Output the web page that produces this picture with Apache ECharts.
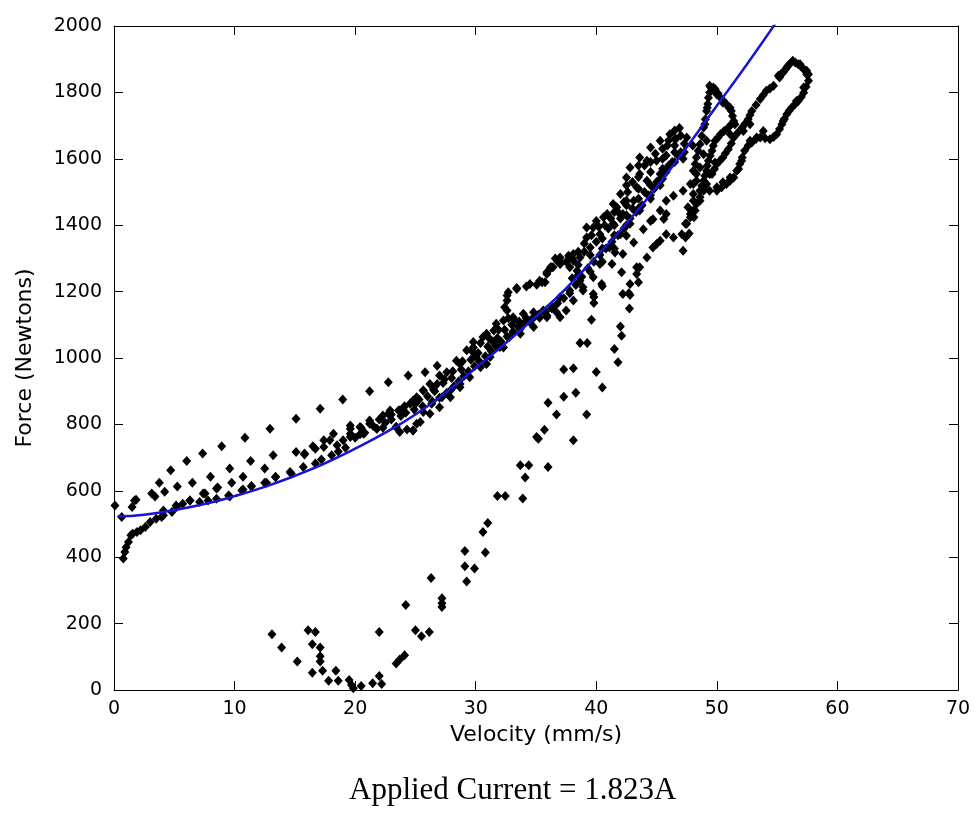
<!DOCTYPE html>
<html>
<head>
<meta charset="utf-8">
<script src="https://cdn.jsdelivr.net/npm/echarts@6/dist/echarts.min.js"></script>
<style>
	html, body { margin: 0; padding: 0; background: #fff; }
	#chart { width: 976px; height: 817px; }
</style>
</head>
<body>
<div id="chart"></div>
<script>
// fitted curve
var fitVelocity = [0.3, 2.5, 5, 7.5, 10, 12.5, 15, 17.5, 20, 22.5, 25, 27.5, 30, 32.5, 35, 37.5, 40, 42.5, 45, 47.5, 50, 52.5, 55];
var fitForce = [523, 528, 542, 560, 584, 612, 645, 683, 727, 775, 830, 895, 970, 1045, 1125, 1210, 1305, 1405, 1515, 1635, 1760, 1885, 2015];

// measured points [velocity, force]
var lowBranch = [
	[0.77,396],[0.9,416],[1.0,430],[1.2,446],[1.4,466],[1.55,471],[1.9,476],[2.2,481],[2.6,491],[3.0,506],
	[3.5,516],[3.95,521],[4.1,526],[4.8,536],[5.2,551],[5.7,561],[6.3,571],[7.1,566],[7.8,571],[8.5,576],
	[9.5,586],[10.6,601],[11.4,614],[12.5,624],[13.4,641],[14.7,652],[15.7,672],[16.7,682],[17.2,694],[18.05,707],
	[18.6,718],[19.2,730],[19.6,762],[20.4,770],[20.7,772],[21.8,787],[22.3,790],[23.4,792],[23.7,777],[24.3,785],
	[24.8,782],[25.1,802],[25.65,837],[26.35,862],[27.2,882],[27.9,902],[28.7,922]
];
var upperBranch = [
	[0.08,556],[0.64,521],[1.5,551],[1.7,571],[1.83,573],[3.13,592],[3.76,624],[4.7,662],[6.03,690],[7.35,712],
	[8.93,734],[10.86,760],[12.94,787],[15.1,817],[17.1,847],[18.97,875],[21.2,900],[22.75,927],[24.4,947],[25.8,957],
	[26.8,977]
];
var midBranch = [
	[3.4,583],[4.2,597],[5.25,613],[6.5,624],[7.55,592],[8.0,642],[8.5,607],[9.6,583],[9.76,624],[9.6,667],
	[10.7,604],[11.33,690],[11.4,614],[12.65,624],[13.2,707],[15.1,717],[15.8,712],[16.5,734],[17.4,752],[18.2,772],
	[19.6,787],[4.1,541],[5.15,556],[6.3,571],[7.4,592],[8.6,610],[10.7,642],[12.5,667],[13.4,642],[14.6,657],
	[15.8,709],[16.7,727],[17.4,732],[17.9,752],[18.5,737],[19.0,752],[19.6,772],[20.4,792],[21.2,802],[22.3,827],
	[22.9,842],[23.6,842],[24.8,872],[25.65,902],[26.8,922]
];
var middleBand = [
	[19.6,797],[21.2,812],[22.75,832],[23.7,842],[24.55,862],[25.1,882],[25.65,902],[26.2,922],[27.0,947],[27.6,957],
	[28.4,992],[29.25,1023],[29.8,1048],[30.6,1063],[31.5,1083],[32.3,1113],
	[21.8,787],[23.4,792],[24.8,782],[25.4,807],[26.2,832],[27.0,852],[27.9,882],[28.7,912],[29.5,942],[30.4,972],
	[31.2,1003],[32.0,1033],[32.8,1063],[33.7,1088],[34.5,1108],[35.3,1121],[35.9,1128],[36.7,1138],
	[20.5,790],[22.0,815],[23.0,830],[24.0,850],[25.0,862],[26.0,885],[26.6,900],[27.3,925],[28.0,940],[28.8,965],
	[29.6,995],[30.2,1015],[31.0,1035],[31.8,1060],[32.4,1085],[33.0,1100],[33.6,1110],[34.2,1120],[34.9,1125],
	[28.7,982],[29.8,1032],[30.9,1073],[31.7,1103],[30.9,982],[32.3,1032],[33.7,1073],[34.8,1093],[35.9,1123],
	[20.0,760],[20.8,775],[21.5,795],[22.5,805],[23.0,815],[23.8,825],[24.2,835],[24.9,845],[25.6,855],[26.4,870],
	[27.0,880],[27.6,895],[28.2,915],[28.6,930],[29.0,945],[29.4,960],[29.9,975],[30.3,990],[30.8,1005],[31.3,1020],
	[31.7,1035],[32.1,1050],[32.6,1065],[33.1,1080],[33.5,1095],[34.0,1105],[34.6,1115],[35.2,1130],[35.8,1140],[36.3,1150],
	[26.5,905],[27.4,935],[28.1,960],[28.9,990],[29.7,1020],[30.4,1045],[31.1,1060],[31.9,1085],[32.7,1120],[25.3,875],
	[24.1,855],[30.0,1005],[31.4,1050],[33.2,1115]
];
var middleLoop = [
	[32.6,1143],[32.6,1173],[32.7,1198],[33.4,1211],[34.2,1215],[35.06,1221],[35.75,1228],[35.9,1258],[36.4,1273],[37.1,1288],
	[37.7,1308],[38.1,1293],[38.4,1263],[38.65,1233],[38.9,1213],[33.1,1123],[33.95,1133],[34.8,1138],[35.6,1143],[36.4,1153],
	[37.0,1183],[37.8,1203],[32.4,1153],[32.6,1188],[33.4,1208],[34.5,1223],[35.5,1228],[35.9,1253],[36.3,1273],[37.0,1283]
];
var upperBand = [
	[35.3,1233],[36.2,1273],[37.0,1303],[38.1,1313],[39.2,1363],[39.75,1393],[40.6,1424],[41.4,1464],[42.0,1494],[42.5,1544],
	[42.8,1574],[43.6,1604],[44.5,1634],[45.3,1654],[46.1,1674],[46.9,1693],[47.5,1664],
	[37.8,1273],[38.65,1303],[39.5,1333],[40.3,1373],[41.4,1404],[42.2,1434],[43.1,1474],[43.35,1514],[44.2,1534],[45.3,1554],
	[45.0,1594],[44.2,1594],[43.6,1554],[38,1240],[39,1320],[40,1350],[41,1390],[42,1420],[43,1450],[44,1500],
	[45,1530],[46,1580],[47,1620],[46.5,1640],[46.0,1655],[45.5,1630],[47.3,1645],[48.0,1640],[47.0,1670],[46.5,1685],
	[45.8,1610],
	[37.0,1123],[37.5,1143],[38.1,1173],[38.9,1203],[39.75,1243],[40.3,1283],[41.1,1333],[42.0,1373],[42.8,1404],[43.6,1444],
	[44.5,1480],[45.3,1520],[39.2,1393],[40.0,1413],[40.9,1434],[41.7,1454],[42.5,1474],
	[36.8,1165],[37.3,1180],[37.8,1195],[38.3,1220],[38.8,1245],[39.3,1270],[39.8,1290],[40.3,1310],[40.8,1330],[41.3,1350],
	[41.8,1370],[42.3,1390],[42.8,1420],[43.3,1440],[43.8,1460],[44.3,1490],[44.8,1510],[45.3,1540],[45.8,1560],[46.3,1590],
	[46.8,1610],[47.2,1600],[46.6,1660],[45.9,1640],[44.9,1615],[44.0,1580],[43.5,1580],[43.0,1530],[42.6,1500],[42.3,1470],
	[41.8,1440],[41.2,1420],[40.7,1400],[40.2,1395],[39.6,1370],[39.0,1345],[38.5,1320],[38.0,1300],[37.5,1290],[36.8,1290],
	[36.6,1300],
	[38.5,1250],[38.5,1280],[39.5,1260],[39.5,1310],[40.5,1290],[40.5,1330],[40.5,1360],[41.5,1330],[41.5,1370],[41.5,1400],
	[41.5,1440],[42.5,1400],[42.5,1430],[42.5,1460],[42.5,1520],[43.5,1450],[43.5,1480],[43.5,1510],[43.5,1545],[44.5,1490],
	[44.5,1520],[44.5,1560],[44.5,1590],[45.5,1540],[45.5,1570],[45.5,1600],[46.5,1590],[46.5,1620],[46.5,1660],[47.3,1620]
];
var returnBranch = [
	[49.85,1589],[49.4,1554],[49.15,1654],[48.9,1614],[48.6,1574],[48.3,1534],[48.05,1494],[47.6,1454],[47.4,1404],[47.1,1373],
	[46.4,1363],[45.8,1373],[45.3,1353],[44.7,1333],[44.2,1303],[43.6,1273],[43.35,1253],[42.8,1223],[42.2,1193],
	[44.7,1418],[43.9,1388],[42.5,1368],[43.1,1348],[41.55,1318],[42.2,1313],[41.3,1283],[42.1,1258],[40.45,1223],[42.7,1195],
	[43.5,1228],[39.75,1193],[48.05,1524],[47.2,1504],[46.4,1489],[45.8,1474],[45.3,1444],[45.6,1419],[44.5,1413],[45.8,1434],
	[45.0,1343],[43.35,1273],[47.5,1404],[47.4,1363],[47.2,1323],[47.7,1375]
];
var fallBranch = [
	[42.8,1190],[42.75,1149],[42.0,1095],[42.1,1067],[41.5,1027],[41.8,987],[40.5,1216],[39.8,1184],[39.8,1166],[39.6,1115],
	[38.65,1045],[39.25,1045],[37.3,965],[38.1,969],[40.0,958],[40.5,911],[36.0,865],[36.7,830],[37.3,883],[38.3,895],
	[39.2,830],[35.05,762],[35.2,757],[35.7,784],[38.1,752],[33.7,677],[34.4,677],[34.1,640],[36.0,672],[31.8,584],
	[32.45,584],[33.9,577],[30.6,476],[31.0,503],[30.8,414],[29.1,419],[29.1,373],[29.9,366],[29.25,327],[26.3,337],
	[27.2,276],[27.2,261],[27.2,250],[24.2,256],[25.0,180],[25.5,162],[26.15,175],[23.4,80],[23.7,92],[24.1,105],
	[22.0,175],[22.0,42],[22.2,18],[21.45,20],[20.5,12],[19.85,5],[19.7,15],[19.5,30],[18.6,28],[17.8,28],
	[18.4,58],[17.3,58],[16.45,52],[17.1,86],[17.1,102],[17.1,128],[16.45,138],[16.7,175],[16.1,180],[15.2,86],
	[13.9,128],[13.1,168]
];
var spike = [
	[47.8,1524],[48.05,1564],[48.3,1604],[48.6,1644],[48.9,1694],[49.15,1744],[49.3,1784],[49.5,1815],[49.85,1810],[50.3,1784],
	[50.8,1764],[51.2,1744],[51.4,1714],[50.95,1694],[50.3,1674],[49.85,1654],[49.6,1624],[49.3,1594],[49.15,1564],[48.9,1534],
	[48.6,1504],[47.8,1434],[48.05,1474],[48.3,1554],[49.0,1704],[49.2,1754],[49.4,1820],[49.7,1815],[50.0,1794],[50.5,1769],
	[51.1,1754],[51.5,1704],[51.1,1674],
	[48.2,1584],[48.45,1624],[48.75,1669],[49.05,1719],[49.25,1765],[49.4,1800],[49.7,1812],[50.1,1797],[50.55,1774],[51.0,1754],
	[51.3,1729],[51.2,1704],[50.6,1684],[50.1,1664],[49.7,1639],[49.45,1609],[49.2,1579],[49.0,1549],[48.75,1519]
];
var rightLoop = [
	[50.0,1504],[50.8,1524],[51.4,1544],[51.9,1584],[52.3,1624],[52.9,1649],[53.6,1664],[54.4,1659],[54.96,1674],[55.4,1704],
	[55.8,1734],[56.2,1754],[56.75,1774],[57.2,1799],[57.6,1835],[57.6,1855],[57.2,1870],[56.75,1885],[56.3,1895],[55.9,1880],
	[55.5,1860],[55.1,1850],[57.45,1855],[57.2,1815],[56.6,1774],[55.5,1714],[53.85,1684],[53.3,1664],[52.75,1654],[52.06,1594],
	[51.8,1569],[51.1,1544],[50.5,1529],[50.0,1514],[49.4,1504],[48.9,1514],[48.6,1474],[48.2,1444],[48.1,1424],[55.8,1875],
	[56.9,1885],
	[54.7,1820],[54.1,1805],[53.6,1780],[52.9,1744],[52.6,1719],[52.1,1694],[51.4,1664],[50.95,1629],[50.5,1604],[50.0,1584],
	[49.6,1554],[49.15,1524],[48.6,1484],[48.05,1444],[55.2,1845],[52.75,1704],[52.2,1684],
	[50.4,1514],[51.1,1534],[51.65,1564],[52.1,1604],[52.6,1640],[53.25,1660],[54.0,1662],[54.7,1666],[55.2,1690],[55.6,1720],
	[56.0,1745],[56.5,1765],[57.0,1786],[57.4,1817],[57.45,1865],[57.0,1878],[56.5,1890],[56.1,1888],[55.7,1870],[55.3,1855],
	[54.4,1812],[53.85,1792],[53.25,1762],[52.75,1732],[52.35,1706],[51.75,1679],[51.2,1646],[50.7,1616],[50.25,1594],[49.8,1569],
	[48.9,1504],[48.3,1464],[47.8,1424]
];

var measured = [].concat(lowBranch, upperBranch, midBranch, middleBand, middleLoop,
	upperBand, returnBranch, fallBranch, spike, rightLoop);

var fitLine = [];
for(var i=0; i<fitVelocity.length; i++)
	fitLine.push([fitVelocity[i], fitForce[i]]);

var axisColor = '#000';
var labelFont = 'DejaVu Sans';

function boxAxis(position, showLabel, min, max, interval)
{
	return {
		type: 'value',
		position: position,
		min: min,
		max: max,
		interval: interval,
		axisLine: { show: true, onZero: false, lineStyle: { color: axisColor, width: 1 } },
		axisTick: { show: true, inside: true, length: 9, lineStyle: { color: axisColor, width: 1 } },
		axisLabel: {
			show: showLabel, margin: 12, color: axisColor, fontFamily: labelFont, fontSize: 19,
			formatter: function(v){ return String(v); }
		},
		splitLine: { show: false }
	};
}

var xBottom = boxAxis('bottom', true, 0, 70, 10);
xBottom.name = 'Velocity (mm/s)';
xBottom.nameLocation = 'middle';
xBottom.nameGap = 32;
xBottom.nameTextStyle = { color: axisColor, fontFamily: labelFont, fontSize: 22 };
xBottom.axisLabel.margin = 10;

var yLeft = boxAxis('left', true, 0, 2000, 200);
yLeft.name = 'Force (Newtons)';
yLeft.nameLocation = 'middle';
yLeft.nameRotate = 90;
yLeft.nameGap = 78;
yLeft.nameTextStyle = { color: axisColor, fontFamily: labelFont, fontSize: 22 };

var chart = echarts.init(document.getElementById('chart'));
chart.setOption({
	animation: false,
	backgroundColor: '#fff',
	title: {
		text: 'Applied Current = 1.823A',
		left: 349,
		top: 775,
		padding: 0,
		textStyle: { fontFamily: 'Liberation Serif', fontSize: 31, fontWeight: 'normal', color: '#000' }
	},
	grid: { left: 114, top: 26, right: 18, bottom: 127 },
	xAxis: [ xBottom, boxAxis('top', false, 0, 70, 10) ],
	yAxis: [ yLeft, boxAxis('right', false, 0, 2000, 200) ],
	series: [
		{
			type: 'scatter',
			xAxisIndex: 0,
			yAxisIndex: 0,
			symbol: 'diamond',
			symbolSize: [9, 10],
			itemStyle: { color: '#000', opacity: 1 },
			data: measured,
			z: 2
		},
		{
			type: 'line',
			xAxisIndex: 0,
			yAxisIndex: 0,
			smooth: true,
			showSymbol: false,
			clip: true,
			lineStyle: { color: '#1515d2', width: 2.5 },
			data: fitLine,
			z: 3
		}
	]
});
</script>
</body>
</html>
